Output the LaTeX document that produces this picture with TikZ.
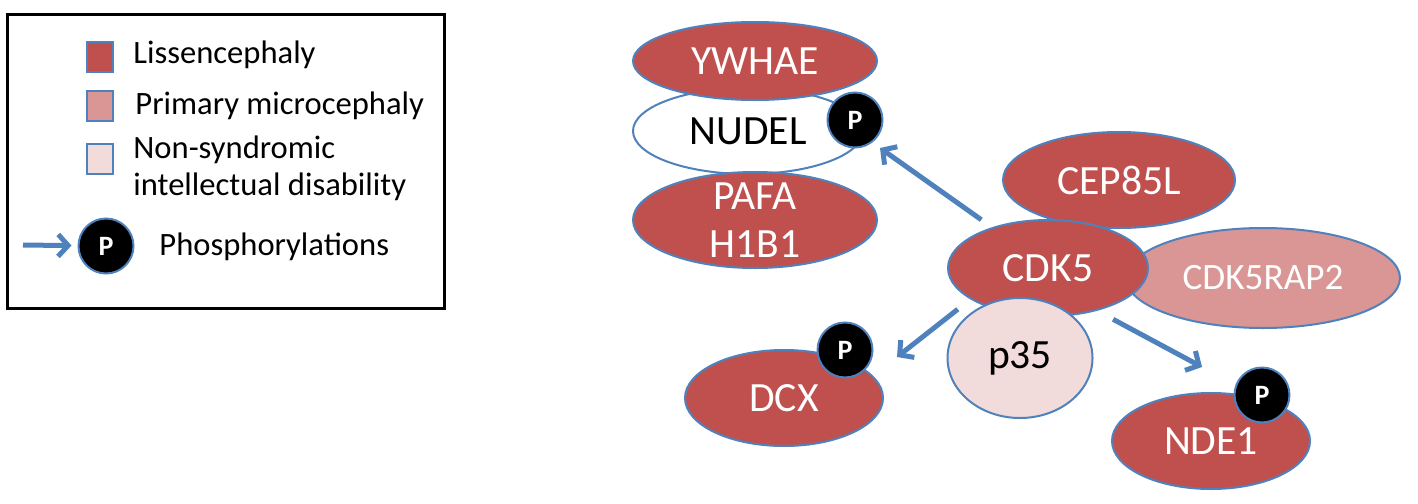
\documentclass[tikz,border=0pt]{standalone}
\usepackage{fontspec}
\setmainfont{Carlito}
\usetikzlibrary{arrows.meta,shapes.geometric}

\definecolor{lissred}{RGB}{192,80,77}
\definecolor{microred}{RGB}{217,150,148}
\definecolor{nonsynd}{RGB}{242,220,219}
\definecolor{pblue}{RGB}{79,129,189}

\tikzset{
	gene/.style={ellipse,draw=pblue,line width=1pt,fill=lissred,text=white,inner sep=0pt,font=\fontsize{20.8}{24}\selectfont},
	phos/.style={circle,draw=pblue,line width=1pt,fill=black,text=white,minimum size=27.5pt,inner sep=0pt,font=\fontsize{14}{16}\selectfont\bfseries},
	arr/.style={-{Straight Barb[length=5pt,width=11pt]},line width=2.5pt,color=pblue},
	legsq/.style={rectangle,draw=pblue,line width=1pt,minimum width=13pt,minimum height=15pt,inner sep=0pt},
	legtext/.style={anchor=west,align=left,inner sep=0pt,font=\fontsize{16.3}{18.5}\selectfont}
}

\begin{document}
\begin{tikzpicture}[x=0.5pt,y=-0.5pt]
\useasboundingbox (0,0) rectangle (1418,503);

% legend
\draw[line width=1.5pt] (7,14) rectangle (444,308);

\node[legsq,fill=lissred] (sqliss) at (100,57) {};
\node[legsq,fill=microred] (sqmicro) at (100,105.5) {};
\node[legsq,fill=nonsynd] (sqnon) at (100,158.5) {};

\node[legtext] (txliss) at (133,55) {Lissencephaly};
\node[legtext] (txmicro) at (135,106) {Primary microcephaly};
\node[legtext] (txnon) at (133,168.5) {Non-syndromic\\intellectual disability};

\node[phos] (legp) at (106,246) {P};
\coordinate (legtail) at (23,245);
\draw[arr,shorten >=3pt] (legtail) -- (legp);
\node[legtext] (txphos) at (159,247) {Phosphorylations};

% NUDEL complex
\node[gene,fill=white,text=black,minimum width=115pt,minimum height=43pt] (nudel) at (748,131) {NUDEL};
\node[gene,minimum width=122pt,minimum height=39pt] (ywhae) at (755,61) {YWHAE};
\node[gene,minimum width=122pt,minimum height=48pt,align=center,inner ysep=-6pt] (pafa) at (755,220) {PAFA\\H1B1};
\node[phos] (nudelp) at (855,120) {P};

% CDK5 complex
\node[gene,minimum width=116pt,minimum height=48pt] (cep) at (1119,180) {CEP85L};
\node[gene,fill=microred,minimum width=137pt,minimum height=50pt,font=\fontsize{18.6}{22}\selectfont] (rap) at (1263,278) {CDK5RAP2};
\node[gene,minimum width=100pt,minimum height=48pt] (cdk5) at (1048,268) {CDK5};
\node[gene,fill=nonsynd,text=black,minimum width=72.5pt,minimum height=60pt] (p35) at (1020,358) {p35};

% targets
\node[gene,minimum width=99pt,minimum height=48pt] (dcx) at (784,398) {DCX};
\node[phos] (dcxp) at (845,350) {P};
\node[gene,minimum width=99pt,minimum height=48pt] (nde) at (1211,441) {NDE1};
\node[phos] (ndep) at (1262,395) {P};

\coordinate (nudeltip) at (880,148);
\coordinate (dcxtip) at (897,357);
\coordinate (ndetip) at (1202,367);

\draw[arr,shorten <=6.5pt] (cdk5.144) -- (nudeltip);
\draw[arr,shorten <=8pt] (cdk5.202) -- (dcxtip);
\draw[arr,shorten <=9pt] (cdk5.319) -- (ndetip);

\end{tikzpicture}
\end{document}
